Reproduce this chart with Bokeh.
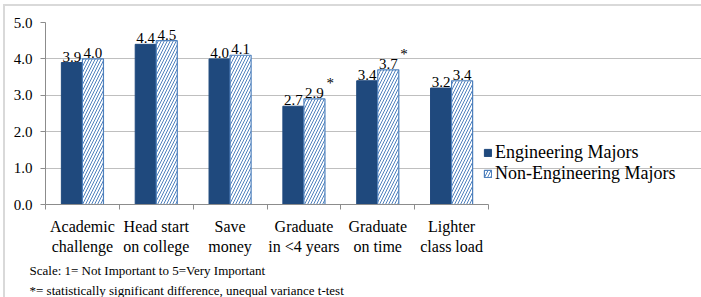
from bokeh.plotting import figure
from bokeh.layouts import column
from bokeh.models import (ColumnDataSource, FixedTicker, LinearAxis, Legend,
                          LegendItem, Title, Range1d, NumeralTickFormatter,
                          LabelSet)
from bokeh.embed import file_html
from bokeh.resources import INLINE

# Survey data: mean importance of each reason, by major
categories = ["Academic\nchallenge", "Head start\non college", "Save\nmoney",
              "Graduate\nin <4 years", "Graduate\non time", "Lighter\nclass load"]
engineering = [3.9, 4.4, 4.0, 2.7, 3.4, 3.2]
non_engineering = [4.0, 4.5, 4.1, 2.9, 3.7, 3.4]
significant = ["", "", "", "*", "*", ""]
series_names = ["Engineering Majors", "Non-Engineering Majors"]
y_ticks = [0, 1, 2, 3, 4, 5]
notes = ["Scale: 1= Not Important to 5=Very Important",
         "*= statistically significant difference, unequal variance t-test"]

FONT = "'Liberation Serif'"
ENG_COLOR = "#1F497D"
NON_COLOR = "#4F81BD"
GRID = "#BFBFBF"
AXIS = "#8C8C8C"

n = len(categories)
bar_w = 0.285
centers = [i + 0.5 for i in range(n)]

# the plotting frame runs to the right edge so the legend can sit beside the
# bars; axis and grid lines are bounded to the category span
PLOT_W, PLOT_H = 696, 291
LEFT, TOP, BOTTOM = 40, 16, 89
BAR_AREA_W = 443
frame_w = PLOT_W - LEFT
x_end = n * frame_w / BAR_AREA_W

eng_src = ColumnDataSource(dict(
    x=[c - bar_w / 2 for c in centers],
    y=engineering,
    label=[f"{v:.1f}" for v in engineering],
))
non_src = ColumnDataSource(dict(
    x=[c + bar_w / 2 for c in centers],
    y=non_engineering,
    label=[f"{v:.1f}" for v in non_engineering],
    star=significant,
))

p = figure(width=PLOT_W, height=PLOT_H, output_backend="svg",
           toolbar_location=None,
           x_range=Range1d(0, x_end), y_range=Range1d(0, 5),
           min_border_left=LEFT, min_border_right=0,
           min_border_top=TOP, min_border_bottom=BOTTOM,
           x_axis_location=None)
p.outline_line_color = None
p.background_fill_color = "white"
p.border_fill_color = "white"

# y axis
p.yaxis.ticker = FixedTicker(ticks=y_ticks)
p.yaxis.formatter = NumeralTickFormatter(format="0.0")
p.yaxis.axis_line_color = AXIS
p.yaxis.major_tick_line_color = AXIS
p.yaxis.major_tick_in = 0
p.yaxis.major_tick_out = 5
p.yaxis.minor_tick_line_color = None
p.yaxis.major_label_standoff = 8
p.yaxis.major_label_text_font = FONT
p.yaxis.major_label_text_font_size = "15px"
p.yaxis.major_label_text_color = "black"

p.ygrid.ticker = FixedTicker(ticks=y_ticks)
p.ygrid.grid_line_color = GRID
p.ygrid.bounds = (0, n)
p.xgrid.grid_line_color = None

# x axis: tick marks between categories, no labels
bounds = list(range(n + 1))
tick_axis = LinearAxis(ticker=FixedTicker(ticks=bounds), bounds=(0, n),
                       major_label_overrides={b: "" for b in bounds},
                       axis_line_color=AXIS, major_tick_line_color=AXIS,
                       major_tick_in=0, major_tick_out=5,
                       minor_tick_line_color=None,
                       major_label_standoff=0)
p.add_layout(tick_axis, "below")

# x axis: category names centred under each group
label_axis = LinearAxis(ticker=FixedTicker(ticks=centers),
                        major_label_overrides={c: t for c, t in zip(centers, categories)},
                        axis_line_color=None, major_tick_line_color=None,
                        minor_tick_line_color=None,
                        major_label_standoff=2,
                        major_label_text_font=FONT,
                        major_label_text_font_size="16px",
                        major_label_text_color="black")
p.add_layout(label_axis, "below")

eng = p.vbar(x="x", top="y", width=bar_w, source=eng_src,
             fill_color=ENG_COLOR, line_color=ENG_COLOR)
non = p.vbar(x="x", top="y", width=bar_w, source=non_src,
             fill_color="white", line_color=NON_COLOR, line_width=1.2,
             hatch_pattern="right_diagonal_line", hatch_color=NON_COLOR,
             hatch_scale=6, hatch_weight=1)

# value labels above the bars
for src in (eng_src, non_src):
    p.add_layout(LabelSet(x="x", y="y", text="label", source=src,
                          text_font=FONT, text_font_size="15px",
                          text_align="center", text_baseline="bottom",
                          text_color="black", y_offset=1))
p.add_layout(LabelSet(x="x", y="y", text="star", source=non_src,
                      text_font=FONT, text_font_size="15px",
                      text_align="left", text_baseline="bottom",
                      text_color="black", x_offset=12, y_offset=8))

legend = Legend(items=[LegendItem(label=series_names[0], renderers=[eng]),
                       LegendItem(label=series_names[1], renderers=[non])],
                location=(BAR_AREA_W - 5, 20), orientation="vertical",
                border_line_color=None, background_fill_alpha=0,
                padding=0, margin=0, spacing=0,
                glyph_width=9, glyph_height=9, label_standoff=3,
                label_height=16, label_text_font=FONT,
                label_text_font_size="18px", label_text_color="black")
p.add_layout(legend, "center")

# footnotes under the category labels
for i, note in enumerate(notes):
    p.add_layout(Title(text=note, align="left", offset=-16,
                       standoff=6 if i == 0 else 0,
                       text_font=FONT, text_font_size="13px",
                       text_font_style="normal", text_color="black"), "below")

layout = column(p, margin=(4, 0, 0, 3),
                styles={"border-left": "2px solid #D9D9D9",
                        "border-top": "2px solid #D9D9D9"})

open("out.html", "w").write(file_html(layout, INLINE))
